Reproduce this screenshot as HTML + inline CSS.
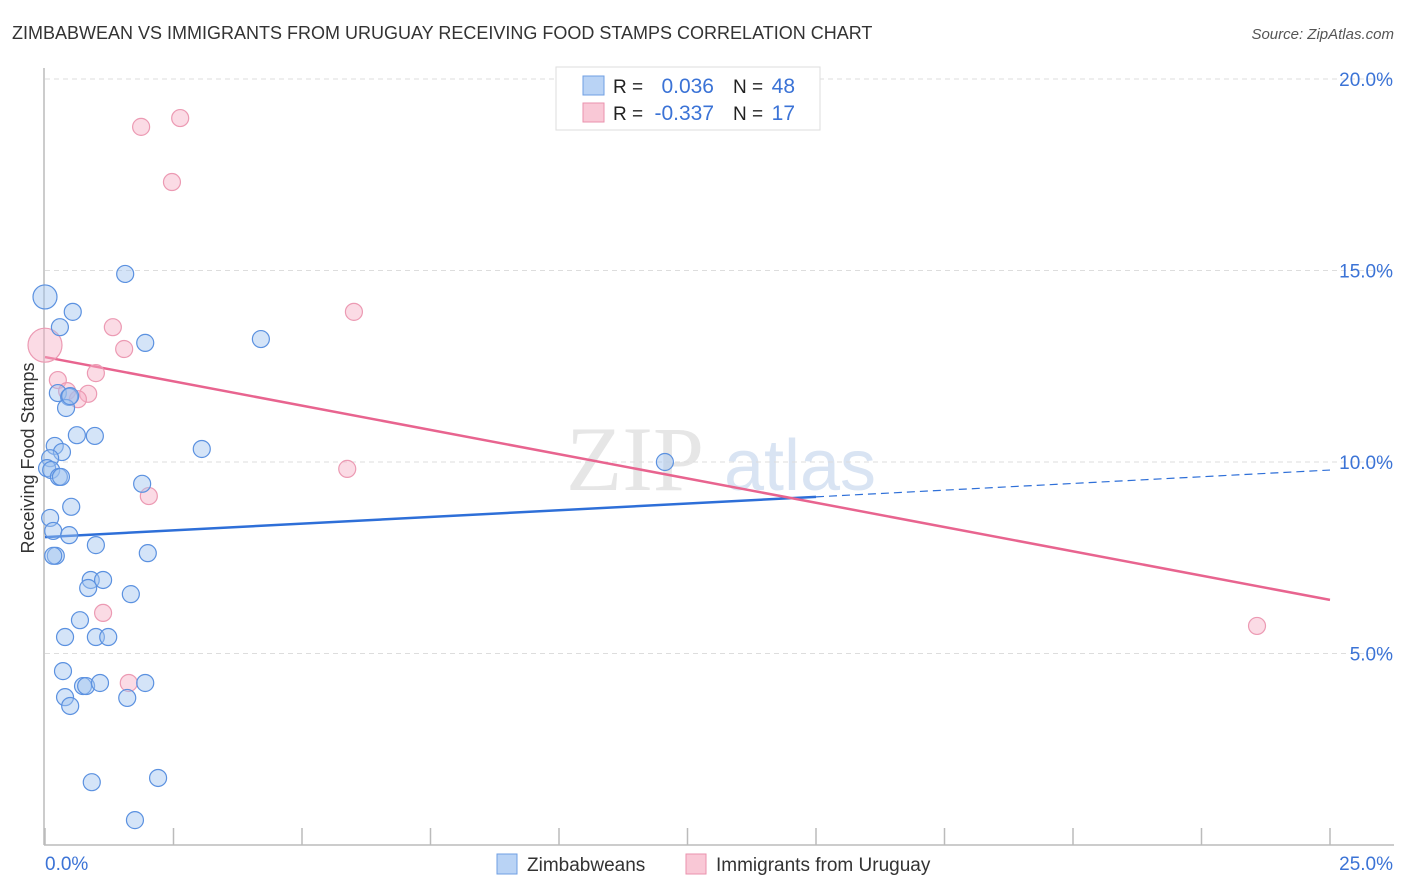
<!DOCTYPE html>
<html><head><meta charset="utf-8">
<style>
body{margin:0;background:#fff;font-family:"Liberation Sans",sans-serif;}
svg{display:block}
</style></head>
<body>
<svg id="chart" width="1406" height="892" xmlns="http://www.w3.org/2000/svg">
<text x="12" y="39" font-size="18" fill="#333">ZIMBABWEAN VS IMMIGRANTS FROM URUGUAY RECEIVING FOOD STAMPS CORRELATION CHART</text>
<text x="1394" y="39" font-size="15" fill="#555" font-style="italic" text-anchor="end">Source: ZipAtlas.com</text>
<text x="34" y="458" font-size="18" fill="#333" text-anchor="middle" transform="rotate(-90 34 458)">Receiving Food Stamps</text>
<g>
<text x="635" y="490" font-size="92" fill="#dcdcdc" text-anchor="middle" font-family="Liberation Serif,serif" opacity="0.7">ZIP</text>
<text x="800" y="490" font-size="72" fill="#c9d9ef" text-anchor="middle" opacity="0.7">atlas</text>
</g>
<g id="grid"></g>
<g id="axes"></g>
<g id="trends"></g>
<g id="points"></g>
<g>
<rect x="556" y="67" width="264" height="63" fill="#fff" stroke="#ddd"/>
<rect x="583" y="76" width="21" height="19" fill="#b9d3f5" stroke="#6f9fe3"/>
<rect x="583" y="103" width="21" height="19" fill="#f9c8d6" stroke="#ea92ad"/>
<text x="613" y="93" font-size="19" fill="#222">R = </text><text x="714" y="93" font-size="21" fill="#3b73d6" text-anchor="end">0.036</text>
<text x="733" y="93" font-size="19" fill="#222">N = </text><text x="795" y="93" font-size="21" fill="#3b73d6" text-anchor="end">48</text>
<text x="613" y="120" font-size="19" fill="#222">R = </text><text x="714" y="120" font-size="21" fill="#3b73d6" text-anchor="end">-0.337</text>
<text x="733" y="120" font-size="19" fill="#222">N = </text><text x="795" y="120" font-size="21" fill="#3b73d6" text-anchor="end">17</text>
</g>
<g>
<rect x="497" y="854" width="20" height="20" fill="#b9d3f5" stroke="#6f9fe3"/>
<text x="527" y="871" font-size="19" fill="#333">Zimbabweans</text>
<rect x="686" y="854" width="20" height="20" fill="#f9c8d6" stroke="#ea92ad"/>
<text x="716" y="871" font-size="19" fill="#333">Immigrants from Uruguay</text>
</g>
</svg>
<script>
const xTicks=[0,2.5,5,7.5,10,12.5,15,17.5,20,22.5,25];
const yTicks=[5,10,15,20];
const yTickLabels=["5.0%","10.0%","15.0%","20.0%"];
const blueX=[0,1.56,0.54,0.29,1.95,4.20,0.25,0.47,0.41,0.49,0.62,0.97,3.05,0.19,0.33,0.10,0.04,0.12,0.27,0.31,12.06,1.89,0.51,0.10,0.16,0.47,0.99,2.00,0.21,0.16,0.89,1.13,0.84,1.67,0.68,0.39,0.99,1.23,0.35,0.39,0.49,0.74,0.80,1.07,1.95,1.60,0.91,2.20,1.75];
const blueY=[14.31,14.91,13.92,13.52,13.11,13.21,11.80,11.70,11.41,11.72,10.70,10.68,10.34,10.42,10.26,10.10,9.84,9.79,9.61,9.61,10.00,9.43,8.83,8.54,8.20,8.09,7.83,7.62,7.55,7.55,6.92,6.92,6.71,6.55,5.87,5.43,5.43,5.43,4.54,3.86,3.63,4.15,4.15,4.23,4.23,3.84,1.64,1.75,0.65];
const pinkX=[1.87,2.63,2.47,6.01,1.32,1.54,0,0.99,0.25,0.43,0.84,0.64,5.88,2.02,1.13,1.63,23.58];
const pinkY=[18.75,18.98,17.31,13.92,13.52,12.95,13.05,12.32,12.14,11.85,11.78,11.64,9.82,9.11,6.06,4.23,5.72];
const blueTrend=[8.04,9.79];
const pinkTrend=[12.74,6.4];
const blueSolidEnd=15;

const NS="http://www.w3.org/2000/svg";
const sx=v=>45+v/25*1285;
const sy=v=>845-v*38.3;
function mk(parent,tag,attrs){const e=document.createElementNS(NS,tag);for(const k in attrs)e.setAttribute(k,attrs[k]);document.getElementById(parent).appendChild(e);return e;}
yTicks.forEach((t,i)=>{
  const g=mk('grid','line',{x1:45,x2:1394,y1:sy(t),y2:sy(t),stroke:'#ddd','stroke-dasharray':'5,4'});
  
  
  const l=mk('axes','text',{x:1393,y:sy(t)+7,'font-size':19,fill:'#3b73d6','text-anchor':'end'});
  l.textContent=yTickLabels[i];
  
  
});
const ax=mk('axes','line',{x1:44,x2:44,y1:68,y2:845,stroke:'#bbb','stroke-width':1.5});


const bx=mk('axes','line',{x1:44,x2:1394,y1:845,y2:845,stroke:'#bbb','stroke-width':1.5});


xTicks.forEach(t=>{
  const k=mk('axes','line',{x1:sx(t),x2:sx(t),y1:828,y2:845,stroke:'#bbb','stroke-width':1.5});
  
  
});
const x0=mk('axes','text',{x:45,y:870,'font-size':19,fill:'#3b73d6'});x0.textContent=xTicks[0].toFixed(1)+'%';


const x1=mk('axes','text',{x:1393,y:870,'font-size':19,fill:'#3b73d6','text-anchor':'end'});x1.textContent=xTicks[xTicks.length-1].toFixed(1)+'%';



const bt=v=>blueTrend[0]+(blueTrend[1]-blueTrend[0])*v/25;
const b1=mk('trends','line',{x1:sx(0),y1:sy(bt(0)),x2:sx(blueSolidEnd),y2:sy(bt(blueSolidEnd)),stroke:'#2e6fd8','stroke-width':2.5});


const b2=mk('trends','line',{x1:sx(blueSolidEnd),y1:sy(bt(blueSolidEnd)),x2:sx(25),y2:sy(bt(25)),stroke:'#2e6fd8','stroke-width':1.2,'stroke-dasharray':'8,5'});


const p1=mk('trends','line',{x1:sx(0),y1:sy(pinkTrend[0]),x2:sx(25),y2:sy(pinkTrend[1]),stroke:'#e8648f','stroke-width':2.5});



pinkX.forEach((x,i)=>{
  const c=mk('points','circle',{cx:sx(x),cy:sy(pinkY[i]),r:(x===0?17:8.5),fill:'rgba(246,176,198,0.45)',stroke:'#ec9ab3','stroke-width':1.2});
  
  
});
blueX.forEach((x,i)=>{
  const c=mk('points','circle',{cx:sx(x),cy:sy(blueY[i]),r:(i===0?12:8.5),fill:'rgba(160,196,240,0.45)',stroke:'#5b91e0','stroke-width':1.2});
  
  
});
</script>
</body></html>
